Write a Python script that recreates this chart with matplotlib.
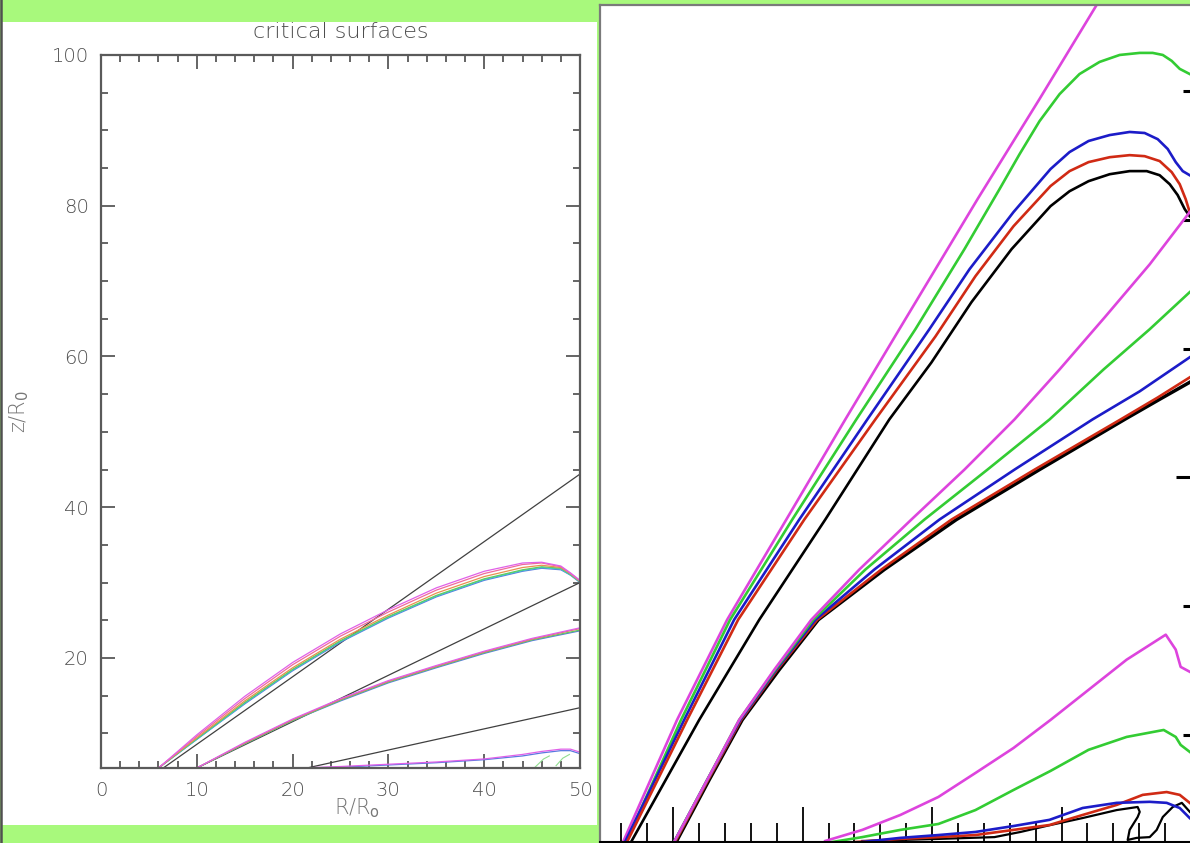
import matplotlib
matplotlib.use("Agg")
import matplotlib.pyplot as plt
from matplotlib.patches import Rectangle
from matplotlib.lines import Line2D
from matplotlib.ticker import MultipleLocator

GREEN_BG = "#a8f97c"

# ---------------- LEFT PANEL DATA ("critical surfaces") ----------------
left_title = "critical surfaces"
left_xlabel = "R/R$_{\\rm o}$"
left_ylabel = "z/R$_0$"
left_xticks = [0, 10, 20, 30, 40, 50]
left_yticks = [20, 40, 60, 80, 100]

# straight black lines (cones)
coneA_R = [6.5, 50.0]
coneA_z = [5.4, 44.4]
coneB_R = [10.0, 50.0]
coneB_z = [5.4, 30.0]
coneC_R = [21.5, 50.0]
coneC_z = [5.4, 13.4]

# group 1 (outermost surfaces)
g1L_R = [6, 10, 15, 20, 25, 30, 35, 40, 44, 46, 48, 49, 50]
g1L_magenta = [5.4, 9.8, 14.9, 19.4, 23.2, 26.4, 29.3, 31.5, 32.6, 32.7, 32.2, 31.3, 30.3]
g1L_pink = [5.4, 9.6, 14.6, 19.1, 22.9, 26.1, 29.0, 31.2, 32.4, 32.6, 32.1, 31.2, 30.2]
g1L_orange = [5.4, 9.4, 14.3, 18.7, 22.5, 25.7, 28.6, 30.8, 32.0, 32.3, 32.0, 31.2, 30.2]
g1L_green = [5.4, 9.3, 14.1, 18.5, 22.3, 25.5, 28.3, 30.5, 31.7, 32.1, 31.9, 31.1, 30.1]
g1L_cyan = [5.4, 9.2, 14.0, 18.4, 22.2, 25.4, 28.2, 30.4, 31.6, 32.0, 31.8, 31.0, 30.1]
g1L_blue = [5.4, 9.2, 13.9, 18.3, 22.1, 25.3, 28.1, 30.3, 31.5, 31.9, 31.7, 31.0, 30.0]

# group 2
g2L_R = [10, 15, 20, 25, 30, 35, 40, 45, 50]
g2L_magenta = [5.4, 8.8, 11.9, 14.6, 17.0, 19.0, 20.9, 22.6, 24.0]
g2L_orange = [5.4, 8.7, 11.8, 14.5, 16.9, 18.9, 20.8, 22.5, 23.9]
g2L_green = [5.4, 8.6, 11.7, 14.4, 16.8, 18.8, 20.7, 22.4, 23.7]
g2L_blue = [5.4, 8.6, 11.7, 14.3, 16.7, 18.7, 20.6, 22.3, 23.6]

# group 3
g3L_R = [21, 25, 30, 35, 40, 44, 46, 48, 49, 50]
g3L_magenta = [5.4, 5.6, 5.9, 6.2, 6.6, 7.2, 7.6, 7.9, 7.9, 7.5]
g3L_blue = [5.4, 5.5, 5.8, 6.1, 6.5, 7.0, 7.4, 7.7, 7.7, 7.3]

# small green features near the outer boundary
sq1_R = [45.3, 46.2, 46.8]
sq1_z = [5.5, 6.6, 7.0]
sq2_R = [47.5, 48.2, 48.9]
sq2_z = [5.7, 6.7, 7.2]

# ---------------- RIGHT PANEL DATA (zoomed surfaces) ----------------
# group 1
r1_mag_R = [6.13, 10.30, 14.17, 18.74, 23.30, 27.47, 31.19, 33.51, 38.30, 42.71, 44.49]
r1_mag_z = [5.84, 10.58, 14.47, 18.36, 22.25, 25.75, 28.86, 30.80, 34.69, 38.34, 40.13]
r1_grn_R = [6.36, 10.61, 14.40, 19.20, 24.15, 28.71, 32.50, 35.21, 36.76, 38.30, 39.85, 41.39,
            42.94, 44.49, 46.04, 47.04, 47.82, 48.51, 49.13, 49.90]
r1_grn_z = [5.84, 10.58, 14.47, 18.36, 22.25, 25.75, 28.86, 31.19, 32.55, 33.83, 34.88, 35.66,
            36.13, 36.40, 36.48, 36.48, 36.40, 36.17, 35.86, 35.66]
r1_blu_R = [6.28, 10.85, 14.71, 19.74, 25.00, 29.79, 32.89, 36.29, 39.15, 40.62, 42.09, 43.72,
            45.26, 46.42, 47.43, 48.20, 48.82, 49.36, 49.90]
r1_blu_z = [5.84, 10.58, 14.47, 18.36, 22.25, 25.75, 28.08, 30.30, 31.97, 32.63, 33.06, 33.29,
            33.41, 33.37, 33.13, 32.75, 32.24, 31.89, 31.73]
r1_red_R = [6.44, 11.08, 15.02, 20.13, 25.62, 30.26, 33.35, 36.29, 39.15, 40.62, 42.09, 43.72,
            45.26, 46.42, 47.58, 48.51, 49.13, 49.59, 49.90]
r1_red_z = [5.84, 10.58, 14.47, 18.36, 22.25, 25.47, 27.81, 29.75, 31.31, 31.89, 32.24, 32.43,
            32.51, 32.47, 32.28, 31.85, 31.38, 30.80, 30.30]
r1_blk_R = [6.75, 12.01, 16.65, 21.75, 26.70, 29.95, 33.04, 36.14, 39.15, 40.62, 42.09, 43.72,
            45.26, 46.58, 47.58, 48.36, 48.97, 49.52, 49.90]
r1_blk_z = [5.84, 10.58, 14.47, 18.36, 22.25, 24.46, 26.80, 28.86, 30.53, 31.11, 31.50, 31.77,
            31.89, 31.89, 31.73, 31.38, 30.96, 30.41, 30.14]

# group 2
r2_mag_R = [10.07, 12.63, 15.10, 17.81, 20.67, 24.38, 28.40, 32.50, 36.37, 39.85, 43.33, 46.81, 49.90]
r2_mag_z = [5.84, 8.25, 10.58, 12.53, 14.47, 16.42, 18.36, 20.30, 22.25, 24.19, 26.21, 28.27, 30.30]
r2_grn_R = [10.07, 12.63, 15.10, 17.88, 20.82, 24.85, 29.41, 34.28, 39.08, 43.25, 46.81, 49.90]
r2_grn_z = [5.84, 8.25, 10.58, 12.53, 14.47, 16.42, 18.36, 20.30, 22.25, 24.19, 25.75, 27.19]
r2_blu_R = [10.07, 12.63, 15.18, 17.96, 20.98, 25.54, 30.57, 36.37, 42.40, 46.04, 49.90]
r2_blu_z = [5.84, 8.25, 10.58, 12.53, 14.47, 16.42, 18.36, 20.30, 22.25, 23.34, 24.66]
r2_red_R = [10.15, 12.70, 15.25, 18.04, 21.13, 26.08, 31.50, 37.92, 44.57, 47.43, 49.90]
r2_red_z = [5.84, 8.25, 10.58, 12.53, 14.47, 16.42, 18.36, 20.30, 22.25, 23.10, 23.88]
r2_blk_R = [10.23, 12.78, 15.33, 18.19, 21.21, 26.31, 31.88, 38.30, 44.88, 47.58, 49.90]
r2_blk_z = [5.84, 8.25, 10.58, 12.53, 14.47, 16.42, 18.36, 20.30, 22.25, 23.03, 23.69]

# group 3
r3_mag_R = [21.75, 24.61, 27.55, 30.49, 33.35, 36.29, 39.15, 42.09, 45.03, 48.05, 48.82, 49.20, 49.90]
r3_mag_z = [5.88, 6.31, 6.89, 7.59, 8.52, 9.49, 10.58, 11.75, 12.92, 13.89, 13.31, 12.64, 12.45]
r3_grn_R = [22.29, 24.61, 27.55, 30.49, 33.35, 36.29, 39.15, 42.09, 45.03, 47.89, 48.82, 49.20, 49.90]
r3_grn_z = [5.84, 6.03, 6.31, 6.54, 7.08, 7.86, 8.60, 9.42, 9.92, 10.19, 9.92, 9.61, 9.34]
r3_red_R = [24.10, 27.55, 30.49, 33.35, 36.29, 39.07, 41.63, 44.26, 46.27, 48.12, 49.13, 49.90]
r3_red_z = [5.84, 5.96, 6.03, 6.11, 6.31, 6.50, 6.89, 7.28, 7.67, 7.78, 7.67, 7.36]
r3_blu_R = [24.61, 27.55, 30.49, 33.35, 36.29, 39.07, 41.63, 44.26, 46.81, 48.12, 49.13, 49.90]
r3_blu_z = [5.84, 6.00, 6.11, 6.23, 6.46, 6.70, 7.16, 7.36, 7.40, 7.36, 7.16, 6.77]
r3_blk_R = [24.61, 30.49, 34.82, 36.83, 39.15, 41.63, 44.26, 45.88, 46.04, 45.88, 45.26, 45.11,
            45.80, 46.81, 47.35, 47.82, 48.59, 49.29, 49.91]
r3_blk_z = [5.88, 5.96, 6.03, 6.23, 6.50, 6.77, 7.08, 7.20, 7.01, 6.81, 6.31, 5.92,
            6.00, 6.03, 6.31, 6.81, 7.20, 7.36, 7.01]

# ---------------- FIGURE ----------------
W, H = 1190, 843
fig = plt.figure(figsize=(W / 100, H / 100), dpi=100, facecolor=GREEN_BG)

# left white panel + dark left edge
fig.patches.append(Rectangle((2 / W, 18 / H), 595 / W, 803 / H, transform=fig.transFigure,
                             facecolor="white", edgecolor="none", zorder=-5))
fig.lines.append(Line2D([1 / W, 1 / W], [0, 1], transform=fig.transFigure,
                        color="#505050", lw=1.8, zorder=-4))

GRAY = "#4e4e4e"

# ----- left axes -----
axL = fig.add_axes([101 / W, (H - 768) / H, 479 / W, 713 / H])
axL.set_zorder(2)
axL.set_facecolor("white")
axL.set_xlim(0, 50)
axL.set_ylim(5.4, 100)
for s in axL.spines.values():
    s.set_color("#5a5a5a")
    s.set_linewidth(1.6)
axL.xaxis.set_major_locator(MultipleLocator(10))
axL.xaxis.set_minor_locator(MultipleLocator(2))
axL.yaxis.set_major_locator(MultipleLocator(20))
axL.yaxis.set_minor_locator(MultipleLocator(5))
axL.set_xticks(left_xticks)
axL.set_yticks(left_yticks)
axL.tick_params(which="both", direction="in", top=True, right=True, colors="#4a4a4a",
                labelcolor=GRAY, labelsize=14, width=1.2)
axL.tick_params(which="major", length=10, pad=9)
axL.tick_params(which="minor", length=5)
for lab in axL.get_xticklabels() + axL.get_yticklabels():
    lab.set_fontweight("light")

lw_l = 0.9
axL.plot(coneA_R, coneA_z, color="#404040", lw=0.9)
axL.plot(coneB_R, coneB_z, color="#404040", lw=0.9)
axL.plot(coneC_R, coneC_z, color="#404040", lw=0.9)

axL.plot(g1L_R, g1L_blue, color="#5a78e0", lw=lw_l)
axL.plot(g1L_R, g1L_cyan, color="#40c8c8", lw=lw_l)
axL.plot(g1L_R, g1L_green, color="#60cc60", lw=lw_l)
axL.plot(g1L_R, g1L_orange, color="#e89050", lw=lw_l)
axL.plot(g1L_R, g1L_pink, color="#f06a9a", lw=lw_l)
axL.plot(g1L_R, g1L_magenta, color="#e060e8", lw=lw_l)

axL.plot(g2L_R, g2L_blue, color="#5a78e0", lw=lw_l)
axL.plot(g2L_R, g2L_green, color="#60cc60", lw=lw_l)
axL.plot(g2L_R, g2L_orange, color="#e87070", lw=lw_l)
axL.plot(g2L_R, g2L_magenta, color="#e060e8", lw=lw_l)

axL.plot(g3L_R, g3L_blue, color="#5a78e0", lw=lw_l)
axL.plot(g3L_R, g3L_magenta, color="#e060e8", lw=lw_l)
axL.plot(sq1_R, sq1_z, color="#90dd90", lw=0.8)
axL.plot(sq2_R, sq2_z, color="#90dd90", lw=0.8)

fig.text(341 / W, (H - 32) / H, left_title, ha="center", va="center", color=GRAY,
         fontsize=16, fontweight="light")
fig.text(357 / W, (H - 808) / H, left_xlabel, ha="center", va="center", color="#777777",
         fontsize=15, fontweight="light")
fig.text(19 / W, (H - 412) / H, left_ylabel, ha="center", va="center", color="#777777",
         fontsize=15, rotation=90, fontweight="light")

# ----- right axes (zoom) -----
axR = fig.add_axes([600 / W, 1 / H, 591 / W, 837 / H])
axR.set_zorder(2)
axR.set_facecolor("white")
axR.set_xlim(4.35, 50)
axR.set_ylim(5.84, 38.34)
axR.spines["left"].set_color("#7a7a7a")
axR.spines["left"].set_linewidth(1.6)
axR.spines["top"].set_color("#7a7a7a")
axR.spines["top"].set_linewidth(1.6)
axR.spines["bottom"].set_color("black")
axR.spines["bottom"].set_linewidth(1.5)
axR.spines["right"].set_visible(False)
axR.xaxis.set_major_locator(MultipleLocator(10))
axR.xaxis.set_minor_locator(MultipleLocator(2))
axR.yaxis.set_major_locator(MultipleLocator(20))
axR.yaxis.set_minor_locator(MultipleLocator(5))
axR.tick_params(axis="x", which="both", direction="in", bottom=True, top=False,
                labelbottom=False, color="black", width=1.3)
axR.tick_params(axis="x", which="major", length=25)
axR.tick_params(axis="x", which="minor", length=14)
axR.tick_params(axis="y", which="both", direction="in", left=False, right=True,
                labelleft=False, labelright=False, color="black", width=2.2)
axR.tick_params(axis="y", which="major", length=11)
axR.tick_params(axis="y", which="minor", length=5.5)

lw_r = 1.9
MAG, GRN, BLU, RED, BLK = "#dd44dd", "#33cc33", "#1c1cc8", "#d02a14", "black"
axR.plot(r1_mag_R, r1_mag_z, color=MAG, lw=lw_r)
axR.plot(r1_grn_R, r1_grn_z, color=GRN, lw=lw_r)
axR.plot(r1_blu_R, r1_blu_z, color=BLU, lw=lw_r)
axR.plot(r1_red_R, r1_red_z, color=RED, lw=lw_r)
axR.plot(r1_blk_R, r1_blk_z, color=BLK, lw=lw_r)

axR.plot(r2_blk_R, r2_blk_z, color=BLK, lw=lw_r + 0.6)
axR.plot(r2_red_R, r2_red_z, color=RED, lw=lw_r)
axR.plot(r2_blu_R, r2_blu_z, color=BLU, lw=lw_r)
axR.plot(r2_grn_R, r2_grn_z, color=GRN, lw=lw_r)
axR.plot(r2_mag_R, r2_mag_z, color=MAG, lw=lw_r)

axR.plot(r3_mag_R, r3_mag_z, color=MAG, lw=lw_r)
axR.plot(r3_grn_R, r3_grn_z, color=GRN, lw=lw_r)
axR.plot(r3_blk_R, r3_blk_z, color=BLK, lw=lw_r - 0.3)
axR.plot(r3_red_R, r3_red_z, color=RED, lw=lw_r)
axR.plot(r3_blu_R, r3_blu_z, color=BLU, lw=lw_r)

fig.savefig("out.png", dpi=100, facecolor=GREEN_BG)
